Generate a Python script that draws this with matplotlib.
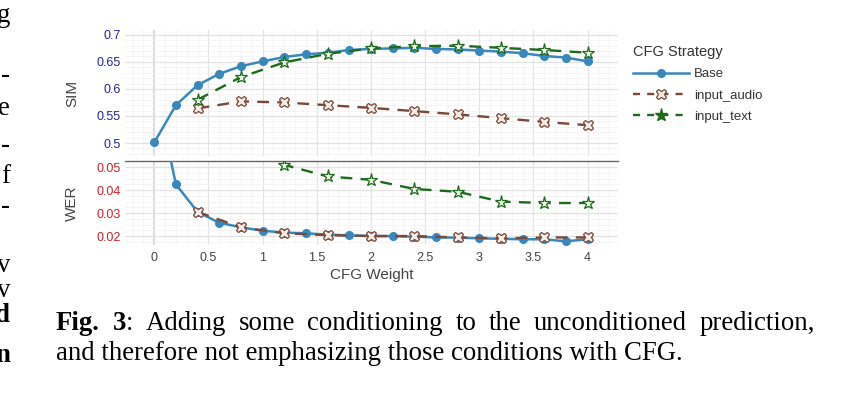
import matplotlib.pyplot as plt
from matplotlib.lines import Line2D
from matplotlib.ticker import MultipleLocator

# data
w_base = [0.0, 0.2, 0.4, 0.6, 0.8, 1.0, 1.2, 1.4, 1.6, 1.8, 2.0,
          2.2, 2.4, 2.6, 2.8, 3.0, 3.2, 3.4, 3.6, 3.8, 4.0]
sim_base = [0.501, 0.570, 0.607, 0.628, 0.642, 0.651, 0.659, 0.664, 0.667, 0.672, 0.674,
            0.675, 0.676, 0.674, 0.673, 0.671, 0.669, 0.666, 0.661, 0.658, 0.651]
wer_base = [0.087, 0.0425, 0.0305, 0.0258, 0.0238, 0.0223, 0.0215, 0.0212, 0.0206, 0.0203, 0.0200,
            0.0200, 0.0197, 0.0194, 0.0193, 0.0190, 0.0188, 0.0186, 0.0186, 0.0177, 0.0186]

w_cond = [0.4, 0.8, 1.2, 1.6, 2.0, 2.4, 2.8, 3.2, 3.6, 4.0]
sim_audio = [0.564, 0.577, 0.575, 0.570, 0.565, 0.559, 0.553, 0.546, 0.539, 0.533]
wer_audio = [0.0305, 0.0238, 0.0212, 0.0204, 0.0200, 0.0200, 0.0194, 0.0190, 0.0194, 0.0194]
sim_text = [0.580, 0.622, 0.649, 0.665, 0.675, 0.679, 0.680, 0.676, 0.672, 0.667]
wer_text = [0.075, 0.062, 0.0510, 0.0460, 0.0445, 0.0405, 0.0393, 0.0350, 0.0344, 0.0344]

series_names = ['Base', 'input_audio', 'input_text']
x_ticks = [0, 0.5, 1, 1.5, 2, 2.5, 3, 3.5, 4]
sim_ticks = [0.5, 0.55, 0.6, 0.65, 0.7]
wer_ticks = [0.02, 0.03, 0.04, 0.05]

caption_1 = [[('Fig.', True)], [('3', True), (':', False)], 'Adding', 'some', 'conditioning',
             'to', 'the', 'unconditioned', 'prediction,']
caption_2 = 'and therefore not emphasizing those conditions with CFG.'

c_base = '#3a88bb'
c_audio = '#7a4a38'
c_text = '#1d6a1d'

plt.rcParams['font.family'] = ['Liberation Sans', 'DejaVu Sans']

fig = plt.figure(figsize=(8.43, 3.97), dpi=100)
W, H = 843, 397


def px_axes(l, t, r, b):
    return fig.add_axes([l / W, 1 - b / H, (r - l) / W, (b - t) / H])


ax1 = px_axes(125, 30, 618, 156)
ax2 = px_axes(125, 161, 618, 245)


def style(ax, tick_color):
    ax.set_xlim(-0.27, 4.28)
    for s in ax.spines.values():
        s.set_visible(False)
    ax.xaxis.set_major_locator(MultipleLocator(0.5))
    ax.xaxis.set_minor_locator(MultipleLocator(0.1))
    ax.grid(which='major', color='#e3e3e3', lw=0.9, zorder=0)
    ax.grid(which='minor', color='#f2f2f2', lw=0.5, zorder=0)
    ax.axvline(0, color='#d6d6d6', lw=1.5, zorder=0)
    ax.tick_params(which='both', length=0)
    ax.tick_params(axis='y', colors=tick_color, labelsize=9, pad=3)
    ax.tick_params(axis='x', colors='#444444', labelsize=9, pad=5)
    ax.set_axisbelow(True)


def draw(ax, yb, ya, yt):
    ax.plot(w_base, yb, color=c_base, lw=1.8, marker='o', ms=5.5,
            mfc=c_base, mec=c_base, zorder=3)
    ax.plot(w_cond, ya, color=c_audio, lw=1.7, ls=(0, (5, 3.5)), marker='X', ms=7.5,
            mfc='#f3ece8', mec=c_audio, mew=0.9, zorder=4)
    ax.plot(w_cond, yt, color=c_text, lw=1.7, ls=(0, (5, 3.5)), marker='*', ms=9.5,
            mfc='#eef6e6', mec=c_text, mew=0.9, zorder=5)


style(ax1, '#24249a')
draw(ax1, sim_base, sim_audio, sim_text)
ax1.set_ylim(0.476, 0.709)
ax1.yaxis.set_minor_locator(MultipleLocator(0.01))
ax1.set_yticks(sim_ticks)
ax1.set_yticklabels([f'{v:g}' for v in sim_ticks])
ax1.tick_params(axis='x', labelbottom=False)
ax1.set_ylabel('SIM', color='#444444', fontsize=11)

style(ax2, '#d0202e')
draw(ax2, wer_base, wer_audio, wer_text)
ax2.set_ylim(0.0161, 0.0527)
ax2.set_yticks(wer_ticks)
ax2.set_yticklabels([f'{v:g}' for v in wer_ticks])
ax2.yaxis.set_minor_locator(MultipleLocator(0.0025))
ax2.set_xticks(x_ticks)
ax2.set_xticklabels([f'{v:g}' for v in x_ticks])
ax2.spines['top'].set_visible(True)
ax2.spines['top'].set_color('#666666')
ax2.spines['top'].set_linewidth(1.0)
ax2.set_ylabel('WER', color='#444444', fontsize=11)
ax2.set_xlabel('CFG Weight', color='#444444', fontsize=11, labelpad=3)
ax1.yaxis.set_label_coords(-0.093, 0.5)
ax2.yaxis.set_label_coords(-0.093, 0.5)

handles = [
    Line2D([], [], color=c_base, lw=1.8, marker='o', ms=5.5),
    Line2D([], [], color=c_audio, lw=1.7, ls=(0, (3, 3)), marker='X', ms=7.5,
           mfc='#f3ece8', mec=c_audio, mew=0.9),
    Line2D([], [], color=c_text, lw=1.7, ls=(0, (3, 3)), marker='*', ms=9.5,
           mfc=c_text, mec=c_text),
]
leg = fig.legend(handles, series_names,
                 title='CFG Strategy', loc='upper left',
                 bbox_to_anchor=(624 / W, 1 - 36 / H), frameon=False,
                 fontsize=9.5, title_fontsize=10.5, handlelength=4.2,
                 labelspacing=0.68, handletextpad=0.4, borderpad=0.2)
leg._legend_box.align = 'left'
for t in leg.get_texts():
    t.set_color('#333333')
leg.get_title().set_color('#333333')

# caption below the chart, first line justified
serif = ['Liberation Serif', 'DejaVu Serif']
fs = 19.3
fig.canvas.draw()
r = fig.canvas.get_renderer()


def seg_width(s, bold):
    t = fig.text(0, 0, s, family=serif, fontsize=fs,
                 fontweight='bold' if bold else 'normal')
    w = t.get_window_extent(r).width
    t.remove()
    return w


words = [wd if isinstance(wd, list) else [(wd, False)] for wd in caption_1]
widths = [sum(seg_width(s, b) for s, b in wd) for wd in words]
left, right = 56, 815
gap = (right - left - sum(widths)) / (len(words) - 1)
x = left
y1 = 1 - 330 / H
for wd, wdw in zip(words, widths):
    xx = x
    for s, b in wd:
        fig.text(xx / W, y1, s, family=serif, fontsize=fs, va='baseline',
                 fontweight='bold' if b else 'normal', color='black')
        xx += seg_width(s, b)
    x += wdw + gap
fig.text(left / W, 1 - 360 / H, caption_2, family=serif, fontsize=fs,
         va='baseline', color='black')

# clipped letters of the neighbouring column
frags = [('g', 22, False), ('-', 82, False), ('e', 115, False), ('-', 152, False),
         ('f', 183, False), ('-', 213, False), ('v', 272, False), ('v', 297, False),
         ('d', 322, True), ('n', 362, True)]
for ch, yy, bold in frags:
    fig.text(10 / W, 1 - yy / H, ch, family=serif, fontsize=fs, ha='right',
             va='baseline', fontweight='bold' if bold else 'normal')

fig.savefig('out.png', dpi=100)
